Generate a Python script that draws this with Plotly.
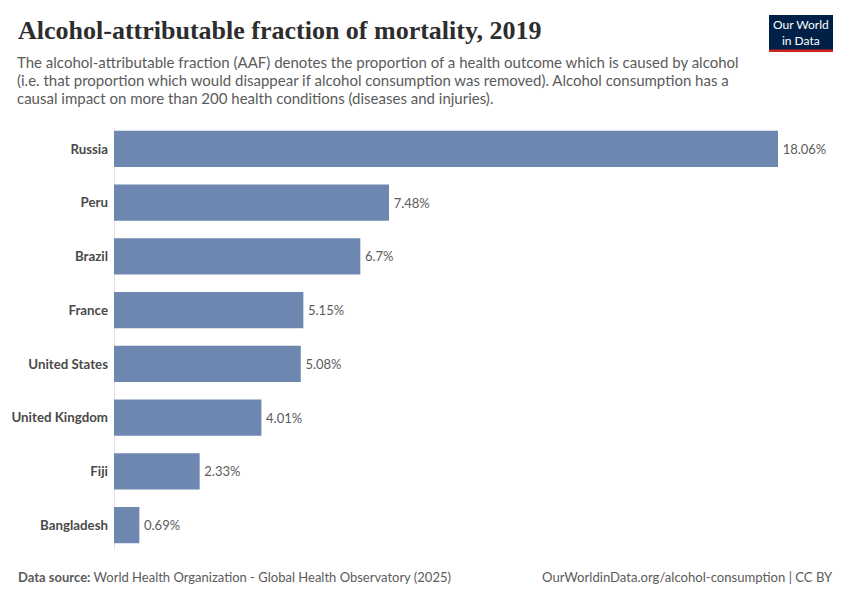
import plotly.graph_objects as go

countries = ["Russia", "Peru", "Brazil", "France", "United States", "United Kingdom", "Fiji", "Bangladesh"]
values = [18.06, 7.48, 6.7, 5.15, 5.08, 4.01, 2.33, 0.69]
value_labels = ["18.06%", "7.48%", "6.7%", "5.15%", "5.08%", "4.01%", "2.33%", "0.69%"]

title = "Alcohol-attributable fraction of mortality, 2019"
subtitle_lines = [
    "The alcohol-attributable fraction (AAF) denotes the proportion of a health outcome which is caused by alcohol",
    "(i.e. that proportion which would disappear if alcohol consumption was removed). Alcohol consumption has a",
    "causal impact on more than 200 health conditions (diseases and injuries).",
]
source = "<b>Data source:</b> World Health Organization - Global Health Observatory (2025)"
credit = "OurWorldinData.org/alcohol-consumption | CC BY"

# page body has an 8px margin; the figure is drawn at offset (8, 8)
OFF = 8
W, H = 850 - OFF, 600 - OFF
L, R, T, B = 114 - OFF, 72, 122 - OFF, 48
PW, PH = W - L - R, H - T - B


def px(x):
    return (x - OFF - L) / PW


def py(y):
    return (H - B - (y - OFF)) / PH


fig = go.Figure()
fig.add_trace(go.Bar(
    x=values, y=countries, orientation="h",
    marker=dict(color="#6d87b0", line=dict(width=0)),
    width=0.67,
    text=value_labels, textposition="outside", cliponaxis=False,
    texttemplate="\u2009%{text}",
    textfont=dict(family="Lato", size=13, color="#5b5b5b"),
    hoverinfo="skip",
))

fig.update_layout(
    width=W, height=H,
    paper_bgcolor="white", plot_bgcolor="white",
    margin=dict(l=L, r=R, t=T, b=B, autoexpand=False),
    showlegend=False,
    font=dict(family="Lato", color="#5b5b5b"),
    xaxis=dict(range=[0, 18.06], showgrid=False, zeroline=False, showticklabels=False, showline=False, fixedrange=True),
    yaxis=dict(categoryorder="array", categoryarray=countries[::-1], range=[-0.5, 7.5],
               showgrid=False, zeroline=False, showline=False, ticks="",
               tickfont=dict(family="Lato", size=13.3, color="#4a4a4a", weight="bold"),
               ticklabelstandoff=5),
)

# vertical axis line
fig.add_shape(type="line", xref="x", yref="paper", x0=0, x1=0, y0=py(550), y1=py(128),
              line=dict(color="#cccccc", width=1), layer="below")

fig.add_annotation(text=title, xref="paper", yref="paper", x=px(16), y=py(14), xanchor="left", yanchor="top",
                   showarrow=False, font=dict(family="Liberation Serif", size=26, color="#2d2d2d", weight="bold"))
for i, line in enumerate(subtitle_lines):
    fig.add_annotation(text=line, xref="paper", yref="paper", x=px(15), y=py(62 + 18 * i), xanchor="left",
                       yanchor="middle", showarrow=False, align="left",
                       font=dict(family="Lato", size=15, color="#5b5b5b"))
fig.add_annotation(text=source, xref="paper", yref="paper", x=px(16), y=py(567), xanchor="left", yanchor="top",
                   showarrow=False, align="left", font=dict(family="Lato", size=13, color="#5b5b5b"))
fig.add_annotation(text=credit, xref="paper", yref="paper", x=px(835), y=py(567), xanchor="right", yanchor="top",
                   showarrow=False, align="right", font=dict(family="Lato", size=13.1, color="#5b5b5b"))

# logo
fig.add_shape(type="rect", xref="paper", yref="paper", x0=px(769), x1=px(833), y0=py(52), y1=py(15),
              fillcolor="#002147", line=dict(width=0))
fig.add_shape(type="rect", xref="paper", yref="paper", x0=px(769), x1=px(833), y0=py(52), y1=py(49.5),
              fillcolor="#ce261e", line=dict(width=0))
fig.add_annotation(text="Our World<br>in Data", xref="paper", yref="paper", x=px(801), y=py(32),
                   xanchor="center", yanchor="middle", showarrow=False, align="center",
                   font=dict(family="Lato", size=12, color="white"))

fig.write_html("out.html")
